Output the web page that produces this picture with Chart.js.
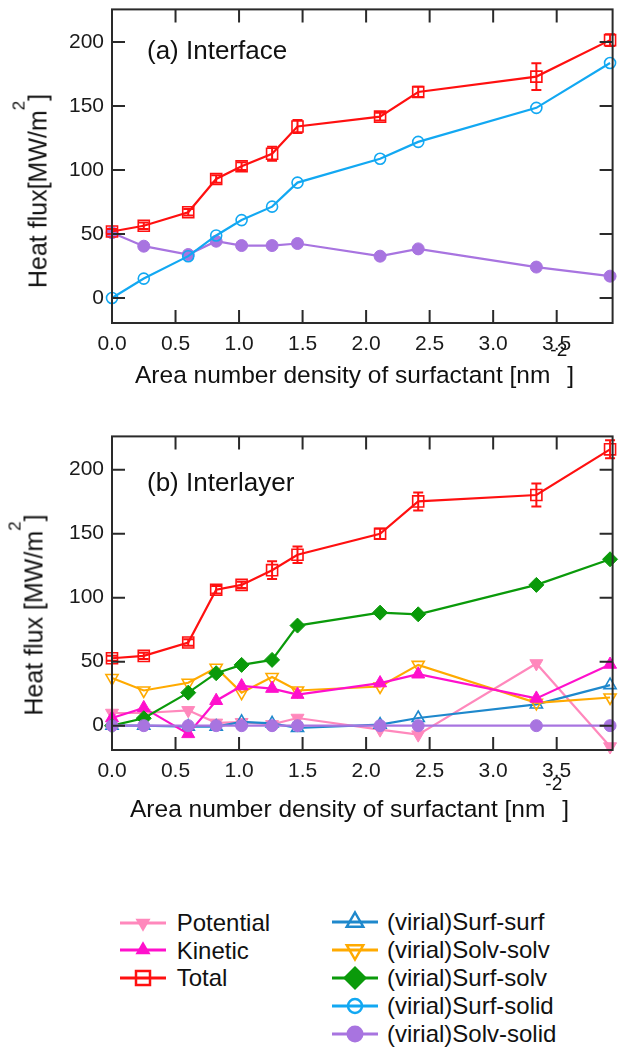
<!DOCTYPE html>
<html><head><meta charset="utf-8">
<title>Heat flux vs area number density of surfactant</title>
<script src="https://cdn.jsdelivr.net/npm/chart.js@4.4.1/dist/chart.umd.min.js"></script>
<style>
html,body{margin:0;padding:0;background:#fff;}
#wrap{position:relative;width:622px;height:1048px;overflow:hidden;font-family:"Liberation Sans",Arial,Helvetica,sans-serif;color:#111;}
#wrap canvas{position:absolute;left:0;}
.t{position:absolute;white-space:nowrap;line-height:1;}
.rot{transform:translate(-50%,-50%) rotate(-90deg);}
.sup{position:relative;font-size:17px;}
.lg{position:absolute;}
</style></head><body>
<div id="wrap">
 <canvas id="c1" width="622" height="400" style="top:0px"></canvas>
 <canvas id="c2" width="622" height="400" style="top:427px"></canvas>
 <div class="t" style="left:147px;top:37px;font-size:26px">(a) Interface</div>
 <div class="t" style="left:147px;top:469px;font-size:26px">(b) Interlayer</div>
 <div class="t rot" style="left:37.5px;top:191px;font-size:25px">Heat flux[MW/m<span class="sup" style="top:-22px">2</span>]</div>
 <div class="t rot" style="left:34px;top:614.5px;font-size:25px">Heat flux [MW/m<span class="sup" style="top:-22px">2</span>]</div>
 <div class="t" style="left:135px;top:363px;font-size:24.5px">Area number density of surfactant [nm<span class="sup" style="top:-27px;font-size:19px">-2</span>]</div>
 <div class="t" style="left:130px;top:796.5px;font-size:24.5px">Area number density of surfactant [nm<span class="sup" style="top:-27px;font-size:19px">-2</span>]</div>
 <div id="legend"></div>
</div>
<script>
// ---- data ----
const xDensity = [0, 0.25, 0.6, 0.82, 1.02, 1.26, 1.46, 2.11, 2.41, 3.34, 3.92];
const xTicks = [0, 0.5, 1.0, 1.5, 2.0, 2.5, 3.0, 3.5];
const yTicks = [0, 50, 100, 150, 200];

// (a) Interface
const aTotal      = [52, 56.5, 67, 93, 103, 112.7, 134, 141.7, 161, 173, 201.5];
const aTotalErr   = [2, 2.5, 2.5, 3, 3, 5.5, 5, 3, 4, 10.4, 4.5];
const aSurfSolid  = [0, 15.2, 32.7, 48.9, 60.9, 71.4, 90.2, 108.8, 122, 148.6, 183.6];
const aSolvSolid  = [51, 40.5, 34, 44.4, 41, 41, 42.6, 32.7, 38.4, 24.2, 17.1];

// (b) Interlayer
const bTotal      = [52.7, 54.5, 65, 106.2, 110, 121.5, 133.5, 149.9, 175.2, 180.2, 215.9];
const bTotalErr   = [2, 2.5, 2.5, 3, 2.5, 7, 6.5, 4, 7, 9, 7];
const bPotential  = [9.9, 9.9, 12, 2.2, 2.7, 1, 6, -3.1, -7, 48.6, -16.3];
const bKinetic    = [6, 13.9, -6.4, 19.5, 31, 29, 24.3, 33.3, 40.2, 21.3, 47.8];
const bSurfSurf   = [0, 0, -0.8, -0.8, 3, 1.8, -1.8, 0.8, 6, 16.6, 31.7];
const bSolvSolv   = [37.2, 27.5, 33.5, 45.2, 25.8, 38, 27.5, 30.6, 47.5, 17.8, 22];
const bSurfSolv   = [0, 5.8, 25.8, 41, 47.5, 51.4, 78.2, 88.3, 87, 110, 130];
const bSolvSolid  = [0, 0, 0, 0, 0, 0, 0, 0, 0, 0, 0];

const seriesNames = ['Potential', 'Kinetic', 'Total', '(virial)Surf-surf', '(virial)Solv-solv',
                     '(virial)Surf-solv', '(virial)Surf-solid', '(virial)Solv-solid'];

// ---- styles ----
const FONT = '"Liberation Sans", Arial, Helvetica, sans-serif';
const C = {
  red: '#ff1010', cyan: '#12a8f2', purple: '#a874e0', pink: '#ff88bc',
  magenta: '#ff10cc', blue: '#1e88cc', orange: '#ffaa00', green: '#0a9a0a'
};
const CLEAR = 'rgba(255,255,255,0)';

function ds(label, ys, color, style, radius, filled, extra) {
  return Object.assign({
    label: label,
    data: xDensity.map((x, i) => ({x: x, y: ys[i]})),
    borderColor: color, backgroundColor: color, borderWidth: 2.2,
    pointStyle: style, pointRadius: radius, pointHoverRadius: radius,
    pointBorderColor: color, pointBackgroundColor: filled ? color : CLEAR,
    pointBorderWidth: filled ? 1 : 1.6, tension: 0, clip: false, fill: false
  }, extra || {});
}

const errorBarPlugin = {
  id: 'errbars',
  afterDatasetsDraw(chart) {
    const ctx = chart.ctx, y = chart.scales.y;
    chart.data.datasets.forEach((d, i) => {
      if (!d.yErr) return;
      const meta = chart.getDatasetMeta(i);
      ctx.save();
      ctx.strokeStyle = d.borderColor; ctx.lineWidth = 2;
      ctx.beginPath();
      meta.data.forEach((pt, j) => {
        const v = d.data[j].y, e = d.yErr[j];
        const t = y.getPixelForValue(v + e), b = y.getPixelForValue(v - e);
        ctx.moveTo(pt.x, t); ctx.lineTo(pt.x, b);
        ctx.moveTo(pt.x - 5, t); ctx.lineTo(pt.x + 5, t);
        ctx.moveTo(pt.x - 5, b); ctx.lineTo(pt.x + 5, b);
      });
      ctx.stroke();
      ctx.restore();
    });
  }
};

const framePlugin = {
  id: 'frame',
  afterDatasetsDraw(chart) {
    const ctx = chart.ctx, a = chart.chartArea, x = chart.scales.x, y = chart.scales.y;
    const L = 13;
    ctx.save();
    ctx.strokeStyle = '#2a2a2a'; ctx.lineWidth = 2;
    ctx.strokeRect(a.left, a.top, a.right - a.left, a.bottom - a.top);
    ctx.beginPath();
    x.ticks.forEach(t => {
      const px = x.getPixelForValue(t.value);
      ctx.moveTo(px, a.bottom); ctx.lineTo(px, a.bottom - L);
      ctx.moveTo(px, a.top); ctx.lineTo(px, a.top + L);
    });
    y.ticks.forEach(t => {
      const py = y.getPixelForValue(t.value);
      ctx.moveTo(a.left, py); ctx.lineTo(a.left + L, py);
      ctx.moveTo(a.right, py); ctx.lineTo(a.right - L, py);
    });
    ctx.stroke();
    ctx.restore();
  }
};

function opts(ymin, ymax) {
  return {
    responsive: false, animation: false, devicePixelRatio: 1, events: [],
    layout: {padding: {top: 9, right: 9, left: 0, bottom: 0}},
    plugins: {legend: {display: false}, tooltip: {enabled: false}},
    scales: {
      x: {
        type: 'linear', min: 0, max: 3.94,
        grid: {display: false, drawTicks: false}, border: {display: false},
        ticks: {padding: 9, color: '#1a1a1a', font: {family: FONT, size: 21},
                maxRotation: 0, autoSkip: false, callback: v => Number(v).toFixed(1)},
        afterBuildTicks: s => { s.ticks = xTicks.map(v => ({value: v})); },
        afterFit: s => { s.height = 77; s.paddingLeft = 0; s.paddingRight = 0; }
      },
      y: {
        type: 'linear', min: ymin, max: ymax,
        grid: {display: false, drawTicks: false}, border: {display: false},
        ticks: {padding: 8, color: '#1a1a1a', font: {family: FONT, size: 21},
                autoSkip: false, callback: v => String(v)},
        afterBuildTicks: s => { s.ticks = yTicks.map(v => ({value: v})); },
        afterFit: s => { s.width = 112; s.paddingTop = 0; s.paddingBottom = 0; }
      }
    }
  };
}

new Chart(document.getElementById('c1'), {
  type: 'line',
  data: {datasets: [
    ds(seriesNames[2], aTotal, C.red, 'rect', 7.8, false, {yErr: aTotalErr}),
    ds(seriesNames[6], aSurfSolid, C.cyan, 'circle', 5.5, false),
    ds(seriesNames[7], aSolvSolid, C.purple, 'circle', 6, true)
  ]},
  options: opts(-19.5, 225.5),
  plugins: [errorBarPlugin, framePlugin]
});

new Chart(document.getElementById('c2'), {
  type: 'line',
  data: {datasets: [
    ds(seriesNames[2], bTotal, C.red, 'rect', 7.8, false, {yErr: bTotalErr}),
    ds(seriesNames[7], bSolvSolid, C.purple, 'circle', 6, true),
    ds(seriesNames[5], bSurfSolv, C.green, 'rectRot', 7.5, true),
    ds(seriesNames[1], bKinetic, C.magenta, 'triangle', 7.5, true),
    ds(seriesNames[4], bSolvSolv, C.orange, 'triangle', 7, false, {pointRotation: 180}),
    ds(seriesNames[3], bSurfSurf, C.blue, 'triangle', 7, false),
    ds(seriesNames[0], bPotential, C.pink, 'triangle', 7.5, true, {pointRotation: 180})
  ]},
  options: opts(-19, 226),
  plugins: [errorBarPlugin, framePlugin]
});

// ---- legend (HTML text + SVG key) ----
function marker(kind, color) {
  const cx = 23, cy = 14;
  const tri = (r, down) => {
    const s = down ? -1 : 1;
    return [[cx, cy - s * r], [cx + 0.866 * r, cy + s * 0.5 * r], [cx - 0.866 * r, cy + s * 0.5 * r]]
      .map(p => p.join(',')).join(' ');
  };
  switch (kind) {
    case 'downFill': return `<polygon points="${tri(8.7, true)}" fill="${color}"/>`;
    case 'upFill': return `<polygon points="${tri(8.7, false)}" fill="${color}"/>`;
    case 'square': return `<rect x="${cx - 7}" y="${cy - 7}" width="14" height="14" fill="none" stroke="${color}" stroke-width="2.5"/>`;
    case 'upOpen': return `<polygon points="${tri(9.5, false)}" fill="none" stroke="${color}" stroke-width="2.5"/>`;
    case 'downOpen': return `<polygon points="${tri(9.5, true)}" fill="none" stroke="${color}" stroke-width="2.5"/>`;
    case 'diamond': return `<polygon points="${cx - 12},${cy} ${cx},${cy - 12} ${cx + 12},${cy} ${cx},${cy + 12}" fill="${color}"/>`;
    case 'circleOpen': return `<circle cx="${cx}" cy="${cy}" r="7" fill="none" stroke="${color}" stroke-width="2.5"/>`;
    case 'circleFill': return `<circle cx="${cx}" cy="${cy}" r="8.5" fill="${color}"/>`;
  }
}
const legendItems = [
  {name: seriesNames[0], color: C.pink, kind: 'downFill', col: 0, y: 922.7},
  {name: seriesNames[1], color: C.magenta, kind: 'upFill', col: 0, y: 950.2},
  {name: seriesNames[2], color: C.red, kind: 'square', col: 0, y: 978},
  {name: seriesNames[3], color: C.blue, kind: 'upOpen', col: 1, y: 921.7},
  {name: seriesNames[4], color: C.orange, kind: 'downOpen', col: 1, y: 950},
  {name: seriesNames[5], color: C.green, kind: 'diamond', col: 1, y: 977.8},
  {name: seriesNames[6], color: C.cyan, kind: 'circleOpen', col: 1, y: 1006},
  {name: seriesNames[7], color: C.purple, kind: 'circleFill', col: 1, y: 1034}
];
const colX = [{line: 120, text: 176.7}, {line: 331.5, text: 387}];
let html = '';
legendItems.forEach(it => {
  const c = colX[it.col];
  html += `<svg class="lg" style="left:${c.line}px;top:${it.y - 14}px" width="46" height="28">` +
          `<line x1="0" y1="14" x2="46" y2="14" stroke="${it.color}" stroke-width="3"/>` +
          marker(it.kind, it.color) + `</svg>`;
  html += `<div class="t" style="left:${c.text}px;top:${it.y - 11.7}px;font-size:24px">${it.name}</div>`;
});
document.getElementById('legend').innerHTML = html;
</script>
</body></html>
